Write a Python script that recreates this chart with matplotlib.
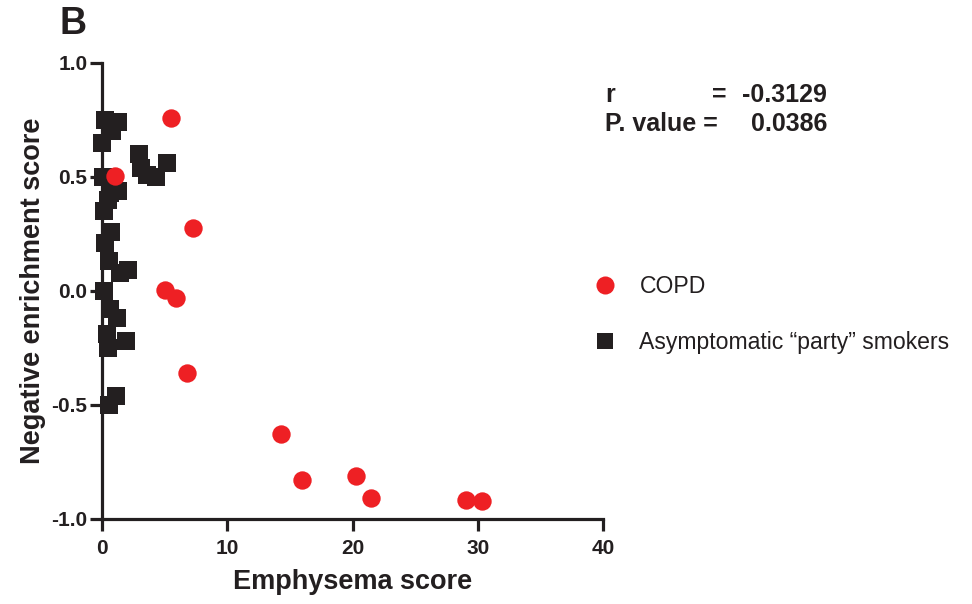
import matplotlib
matplotlib.use("Agg")
import matplotlib.pyplot as plt
from matplotlib.lines import Line2D

plt.rcParams['font.family'] = ['Liberation Sans', 'DejaVu Sans']

# COPD (red circles)
copd_x = [5.5, 1.04, 7.27, 5.03, 5.9, 6.79, 14.3, 15.97, 20.3, 21.5, 29.1, 30.3]
copd_y = [0.759, 0.504, 0.276, 0.004, -0.03, -0.36, -0.627, -0.83, -0.81, -0.908, -0.917, -0.92]

# Asymptomatic "party" smokers (black squares)
smk_x = [0.24, 1.28, 0.80, 0.0, 2.95, 3.11, 3.6, 4.3, 5.19, 0.08, 0.64, 1.28, 0.48,
         0.16, 0.72, 0.24, 0.56, 1.44, 2.08, 0.16, 0.64, 1.2, 0.4, 0.48, 1.92, 1.12, 0.56]
smk_y = [0.75, 0.74, 0.70, 0.65, 0.60, 0.54, 0.51, 0.50, 0.56, 0.50, 0.43, 0.44, 0.40,
         0.35, 0.26, 0.21, 0.13, 0.08, 0.09, 0.0, -0.08, -0.12, -0.19, -0.25, -0.22, -0.46, -0.50]

x_ticks = [0, 10, 20, 30, 40]
y_ticks = [-1.0, -0.5, 0.0, 0.5, 1.0]
y_ticklabels = ["-1.0", "-0.5", "0.0", "0.5", "1.0"]

RED = "#EE2024"
BLACK = "#231F20"

W, H = 972, 604
fig = plt.figure(figsize=(W / 100, H / 100), dpi=100)
ax = fig.add_axes([102 / W, 1 - 519 / H, (603 - 102) / W, (519 - 63) / H])

ax.scatter(smk_x, smk_y, marker='s', s=150, color=BLACK, linewidths=0, zorder=3, clip_on=False)
ax.scatter(copd_x, copd_y, marker='o', s=175, color=RED, linewidths=0, zorder=4, clip_on=False)

ax.set_xlim(0, 40)
ax.set_ylim(-1.0, 1.0)
ax.set_xticks(x_ticks)
ax.set_yticks(y_ticks)
ax.set_yticklabels(y_ticklabels)
for s in ['top', 'right']:
    ax.spines[s].set_visible(False)
for s in ['left', 'bottom']:
    ax.spines[s].set_linewidth(2.3)
    ax.spines[s].set_color(BLACK)
ax.tick_params(axis='both', length=8.5, width=2.3, color=BLACK, labelsize=15,
               labelcolor=BLACK)
ax.tick_params(axis='x', pad=6)
ax.tick_params(axis='y', pad=2)
for lab in ax.get_xticklabels() + ax.get_yticklabels():
    lab.set_fontweight('bold')

ax.set_xlabel("Emphysema score", fontsize=19.5, fontweight='bold', color=BLACK, labelpad=8)
ax.set_ylabel("Negative enrichment score", fontsize=19.5, fontweight='bold', color=BLACK, labelpad=4)

fig.text(73 / W, 1 - 24 / H, "B", fontsize=27, fontweight='bold', color=BLACK,
         ha='center', va='center')

fs_ann = 18
fig.text(605 / W, 1 - 95 / H, "r", fontsize=fs_ann, fontweight='bold', color=BLACK, va='center')
fig.text(712 / W, 1 - 95 / H, "=", fontsize=fs_ann, fontweight='bold', color=BLACK, va='center')
fig.text(827 / W, 1 - 95 / H, "-0.3129", fontsize=fs_ann, fontweight='bold', color=BLACK,
         va='center', ha='right')
fig.text(605 / W, 1 - 124 / H, "P. value =", fontsize=fs_ann, fontweight='bold', color=BLACK,
         va='center')
fig.text(827 / W, 1 - 124 / H, "0.0386", fontsize=fs_ann, fontweight='bold', color=BLACK,
         va='center', ha='right')

handles = [Line2D([], [], marker='o', linestyle='none', markersize=13, color=RED, markeredgewidth=0),
           Line2D([], [], marker='s', linestyle='none', markersize=12, color=BLACK, markeredgewidth=0)]
leg = fig.legend(handles, ["COPD", "Asymptomatic \u201cparty\u201d smokers"],
                 loc='upper left', bbox_to_anchor=(591 / W, 1 - 275 / H),
                 frameon=False, fontsize=16.6, labelspacing=1.45, handletextpad=0.9,
                 handlelength=1.2, borderpad=0, borderaxespad=0)
for t in leg.get_texts():
    t.set_color(BLACK)

fig.savefig("out.png", dpi=100)
